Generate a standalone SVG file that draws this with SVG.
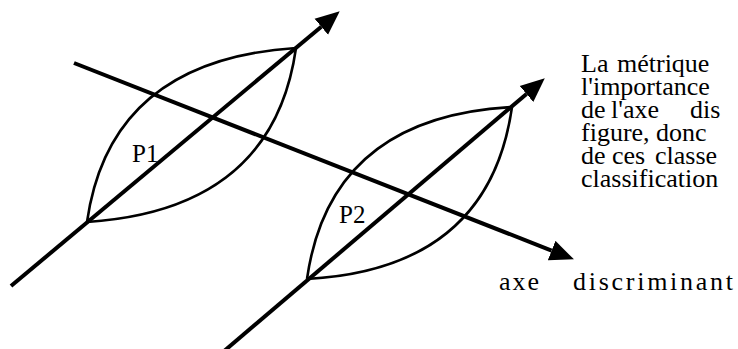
<svg xmlns="http://www.w3.org/2000/svg" width="738" height="349" viewBox="0 0 738 349">
<style>
.axis{fill:none;stroke:#000;stroke-width:4;stroke-linecap:butt}
.lens{fill:none;stroke:#000;stroke-width:2.6}
.t{font-family:"Liberation Serif","Times New Roman",serif;font-size:25px;fill:#000}
.p{font-family:"Liberation Serif","Times New Roman",serif;font-size:26px;fill:#000}
</style>
<defs>
<marker id="ah" markerUnits="userSpaceOnUse" markerWidth="24" markerHeight="22" viewBox="0 0 24 22" refX="0" refY="11" orient="auto">
<path d="M0,0.5 L24,11 L0,21.5 Z" fill="#000"/>
</marker>
</defs>
<rect width="738" height="349" fill="#fff"/>
<g id="P1">
<path class="lens" d="M87,222 Q110,60 296,48"/>
<path class="lens" d="M87,222 Q273,210 296,48"/>
<text class="t" x="132" y="162">P1</text>
</g>
<g id="P2">
<path class="lens" d="M307,279 Q330,117 512,107"/>
<path class="lens" d="M307,279 Q489,269 512,107"/>
<text class="t" x="339" y="223">P2</text>
</g>
<g id="connectors">
<path class="axis" d="M11,286 L321.3,26.7" marker-end="url(#ah)"/>
<path class="axis" d="M223,352 L526.5,93.9" marker-end="url(#ah)"/>
<path class="axis" d="M74,63 L551.6,250.6" marker-end="url(#ah)"/>
</g>
<g id="label-axe">
<text class="p" y="290"><tspan x="499" textLength="40" lengthAdjust="spacing">axe</tspan> <tspan x="573" textLength="160" lengthAdjust="spacing">discriminant</tspan></text>
</g>
<g id="paragraph">
<text class="p" y="72"><tspan x="581">La</tspan> <tspan x="617">métrique</tspan></text>
<text class="p" x="581" y="95">l'importance</text>
<text class="p" y="118"><tspan x="581">de</tspan> <tspan x="611">l'axe</tspan> <tspan x="690">dis</tspan></text>
<text class="p" y="141"><tspan x="581">figure,</tspan> <tspan x="656">donc</tspan></text>
<text class="p" y="164"><tspan x="581">de</tspan> <tspan x="612">ces</tspan> <tspan x="655">classe</tspan></text>
<text class="p" x="581" y="187">classification</text>
</g>
</svg>
